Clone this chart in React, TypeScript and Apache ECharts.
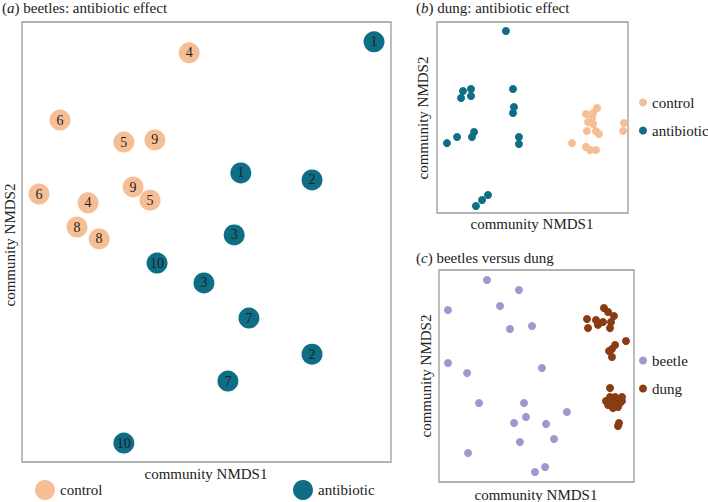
import React, { useEffect, useRef } from "react";
import * as echarts from "echarts";

// Panel (a): beetles, antibiotic effect  [NMDS1, NMDS2, replicate]
const aControl: [number, number, number][] = [
  [45.3, 93.0, 4], [10.3, 77.7, 6], [27.6, 72.7, 5], [36.0, 73.2, 9], [4.6, 60.9, 6],
  [30.1, 62.5, 9], [34.7, 59.5, 5], [17.9, 58.9, 4], [14.9, 53.4, 8], [20.9, 50.7, 8],
];
const aAntibiotic: [number, number, number][] = [
  [95.4, 95.5, 1], [59.3, 65.7, 1], [78.6, 64.1, 2], [57.5, 51.6, 3], [36.6, 45.2, 10],
  [49.3, 40.7, 3], [61.5, 32.7, 7], [78.6, 24.5, 2], [55.8, 18.4, 7], [27.6, 4.3, 10],
];
// Panel (b): dung, antibiotic effect
const bControl: [number, number][] = [
  [83.8, 55.0], [78.0, 51.8], [81.7, 52.4], [81.2, 49.7], [79.1, 47.6], [81.7, 46.6],
  [78.5, 42.9], [83.2, 42.9], [84.8, 41.4], [70.7, 36.6], [78.0, 34.6], [80.1, 33.0],
  [83.2, 33.0], [97.9, 47.1], [97.4, 42.9],
];
const bAntibiotic: [number, number][] = [
  [36.1, 95.3], [13.6, 63.9], [17.8, 64.9], [12.6, 60.2], [17.8, 61.3], [39.8, 64.9],
  [40.3, 55.5], [39.8, 52.4], [10.5, 39.8], [5.2, 36.6], [19.4, 42.4], [18.3, 39.8],
  [42.9, 39.8], [42.9, 36.1], [26.7, 9.4], [23.6, 6.8], [20.4, 3.7],
];
// Panel (c): beetles versus dung
const cBeetle: [number, number][] = [
  [24.6, 95.3], [41.0, 90.6], [4.6, 81.1], [31.3, 83.0], [36.4, 72.2], [47.7, 73.6],
  [4.6, 56.1], [14.4, 51.4], [52.8, 53.8], [20.5, 37.3], [43.6, 37.3], [65.6, 33.0],
  [44.6, 30.7], [38.5, 27.8], [54.9, 27.4], [59.0, 20.3], [41.5, 18.9], [14.9, 13.7],
  [54.4, 7.1], [49.2, 4.7],
];
const cDung: [number, number][] = [
  [84.6, 82.1], [86.7, 80.2], [89.7, 78.3], [75.9, 76.9], [80.5, 76.4], [84.1, 75.5],
  [81.5, 74.1], [76.4, 72.6], [87.7, 72.6], [88.2, 75.5], [95.9, 66.5], [90.3, 64.6],
  [88.7, 62.7], [87.2, 61.8], [88.7, 59.0],
  [87.7, 44.3], [85.6, 38.2], [87.7, 40.1], [90.3, 40.1], [93.8, 40.1], [88.7, 37.3],
  [91.3, 37.7], [92.8, 37.3], [89.2, 34.9], [86.7, 36.3], [91.8, 35.4], [93.8, 38.2],
  [92.3, 27.8], [91.8, 26.4],
];

const FONT = "Liberation Serif";
const C_CONTROL = "#F6BE95";
const C_ANTI = "#0F6E85";
const C_BEETLE = "#9E98CE";
const C_DUNG = "#8A3B12";
const FRAME = "#9a9a9a";

export default function App() {
  const ref = useRef<HTMLDivElement>(null);
  useEffect(() => {
    if (!ref.current) return;
    const chart = echarts.init(ref.current, undefined, { renderer: "svg" });
    const grids = [
      { left: 22, top: 22, width: 369, height: 440 },
      { left: 437, top: 22, width: 191, height: 191 },
      { left: 439, top: 270, width: 195, height: 212 },
    ].map((g) => ({ ...g, show: true, borderColor: FRAME, borderWidth: 1.3, backgroundColor: "transparent" }));
    const axisBase = {
      type: "value" as const, min: 0, max: 100, show: false,
      axisLine: { show: false }, axisTick: { show: false }, axisLabel: { show: false }, splitLine: { show: false },
    };
    const numLabel = {
      show: true, position: "inside" as const, formatter: (p: any) => String(p.value[2]),
      fontFamily: FONT, fontSize: 14, color: "#1e1e1e",
    };
    const titleText = (x: number, y: number, letter: string, rest: string) => ({
      type: "text", left: x, top: y,
      style: {
        text: `({it|${letter}}) ${rest}`, fontFamily: FONT, fontSize: 15, fill: "#222",
        rich: { it: { fontStyle: "italic", fontFamily: FONT, fontSize: 15, fill: "#222" } },
      },
    });
    const centerText = (x: number, y: number, text: string, rot = 0) => ({
      type: "text", x, y, rotation: rot,
      style: { text, fontFamily: FONT, fontSize: 15, fill: "#222", align: "center", verticalAlign: "middle" },
    });
    const legendBase = {
      icon: "circle", orient: "vertical" as const, selectedMode: false as const,
      textStyle: { fontFamily: FONT, fontSize: 15, color: "#222" }, padding: 0,
    };
    chart.setOption({
      animation: false,
      textStyle: { fontFamily: FONT },
      grid: grids,
      xAxis: [0, 1, 2].map((i) => ({ ...axisBase, gridIndex: i })),
      yAxis: [0, 1, 2].map((i) => ({ ...axisBase, gridIndex: i })),
      legend: [
        { ...legendBase, data: ["control"], left: 35, top: 480, itemWidth: 20, itemHeight: 20, itemGap: 0 },
        { ...legendBase, data: ["antibiotic"], left: 293, top: 480, itemWidth: 20, itemHeight: 20, itemGap: 0 },
        { ...legendBase, data: ["control", "antibiotic"], left: 639, top: 95, itemWidth: 8, itemHeight: 8, itemGap: 13 },
        { ...legendBase, data: ["beetle", "dung"], left: 639, top: 353, itemWidth: 8, itemHeight: 8, itemGap: 13 },
      ],
      series: [
        { name: "control", type: "scatter", xAxisIndex: 0, yAxisIndex: 0, data: aControl, symbolSize: 21,
          itemStyle: { color: C_CONTROL, opacity: 1 }, label: numLabel },
        { name: "antibiotic", type: "scatter", xAxisIndex: 0, yAxisIndex: 0, data: aAntibiotic, symbolSize: 21,
          itemStyle: { color: C_ANTI, opacity: 1 }, label: numLabel },
        { name: "control", type: "scatter", xAxisIndex: 1, yAxisIndex: 1, data: bControl, symbolSize: 8,
          itemStyle: { color: C_CONTROL, opacity: 1 } },
        { name: "antibiotic", type: "scatter", xAxisIndex: 1, yAxisIndex: 1, data: bAntibiotic, symbolSize: 8,
          itemStyle: { color: C_ANTI, opacity: 1 } },
        { name: "beetle", type: "scatter", xAxisIndex: 2, yAxisIndex: 2, data: cBeetle, symbolSize: 8,
          itemStyle: { color: C_BEETLE, opacity: 1 } },
        { name: "dung", type: "scatter", xAxisIndex: 2, yAxisIndex: 2, data: cDung, symbolSize: 8,
          itemStyle: { color: C_DUNG, opacity: 1 } },
      ],
      graphic: [
        titleText(2, 0, "a", "beetles: antibiotic effect"),
        titleText(416, 0, "b", "dung: antibiotic effect"),
        titleText(416, 250, "c", "beetles versus dung"),
        centerText(206, 474, "community NMDS1"),
        centerText(532, 224, "community NMDS1"),
        centerText(536, 495, "community NMDS1"),
        centerText(10, 245, "community NMDS2", Math.PI / 2),
        centerText(423, 118, "community NMDS2", Math.PI / 2),
        centerText(426, 376, "community NMDS2", Math.PI / 2),
      ],
    });
    return () => chart.dispose();
  }, []);
  return <div ref={ref} style={{ width: 708, height: 502, position: "absolute", left: 0, top: 0 }} />;
}
